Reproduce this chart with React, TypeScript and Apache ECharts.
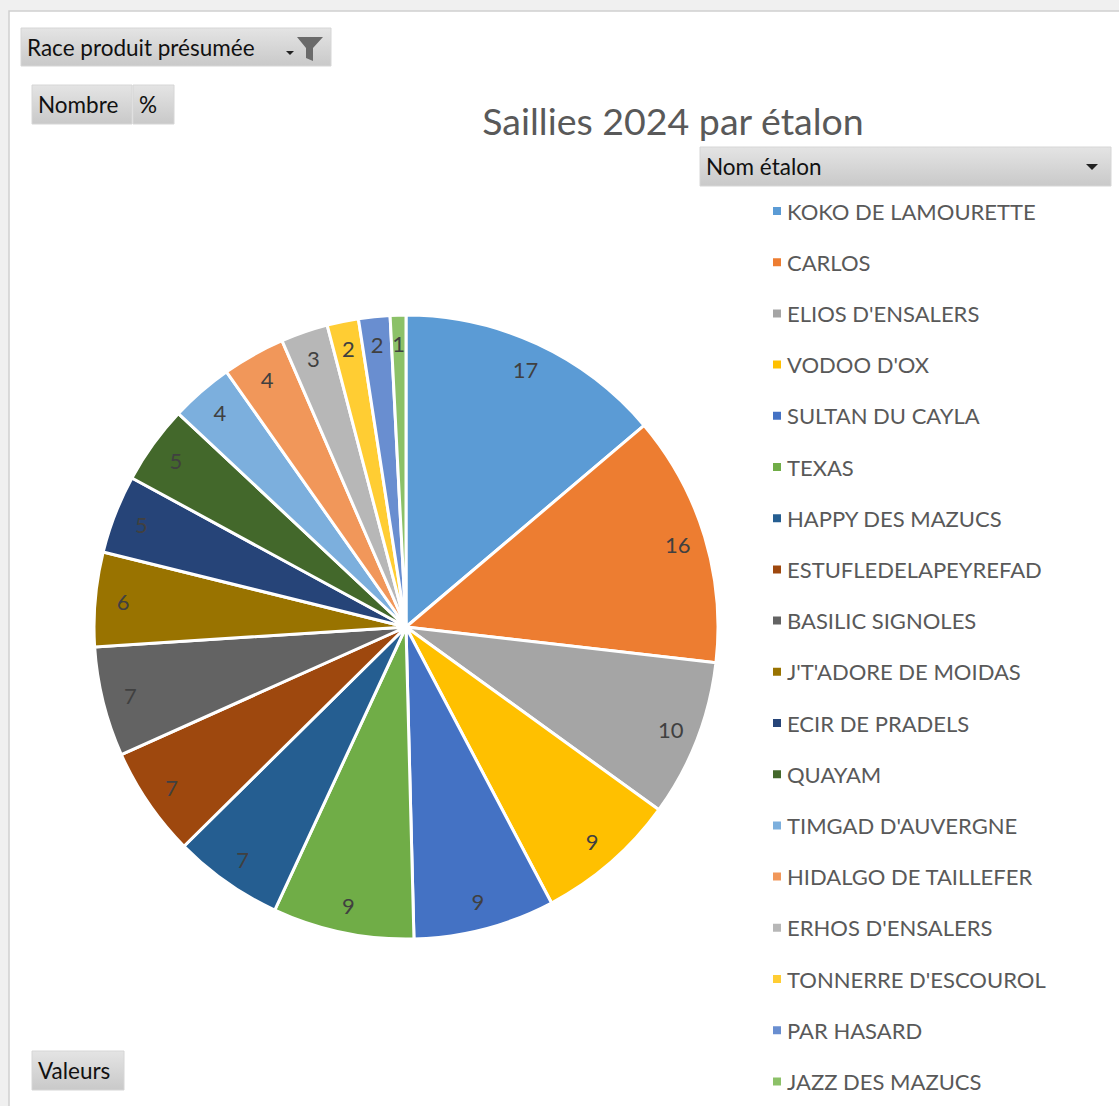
import React, { useEffect, useRef } from "react";
import * as echarts from "echarts";

const names = [
  "KOKO DE LAMOURETTE",
  "CARLOS",
  "ELIOS D'ENSALERS",
  "VODOO D'OX",
  "SULTAN DU CAYLA",
  "TEXAS",
  "HAPPY DES MAZUCS",
  "ESTUFLEDELAPEYREFAD",
  "BASILIC SIGNOLES",
  "J'T'ADORE DE MOIDAS",
  "ECIR DE PRADELS",
  "QUAYAM",
  "TIMGAD D'AUVERGNE",
  "HIDALGO DE TAILLEFER",
  "ERHOS D'ENSALERS",
  "TONNERRE D'ESCOUROL",
  "PAR HASARD",
  "JAZZ DES MAZUCS",
];
const values = [17, 16, 10, 9, 9, 9, 7, 7, 7, 6, 5, 5, 4, 4, 3, 2, 2, 1];
const colors = [
  "#5B9BD5", "#ED7D31", "#A5A5A5", "#FFC000", "#4472C4", "#70AD47",
  "#255E91", "#9E480E", "#636363", "#997300", "#264478", "#43682B",
  "#7CAFDD", "#F1975A", "#B7B7B7", "#FFCD33", "#698ED0", "#8CC168",
];
const titleText = "Saillies 2024 par étalon";

const FONT = "Lato, 'Noto Sans', sans-serif";

function button(x: number, y: number, w: number, h: number, label: string, fs = 22.5) {
  return {
    type: "group",
    children: [
      {
        type: "rect",
        shape: { x, y, width: w, height: h },
        style: {
          fill: new echarts.graphic.LinearGradient(0, 0, 0, 1, [
            { offset: 0, color: "#e4e4e4" },
            { offset: 1, color: "#c9c9c9" },
          ]),
          stroke: "#d6d6d6",
          lineWidth: 1,
        },
      },
      {
        type: "text",
        x: x + 6,
        y: y + h / 2,
        style: {
          text: label,
          font: `${fs}px ${FONT}`,
          fill: "#111",
          verticalAlign: "middle",
        },
      },
    ],
  };
}

export default function App() {
  const ref = useRef<HTMLDivElement>(null);
  useEffect(() => {
    if (!ref.current) return;
    const chart = echarts.init(ref.current, undefined, { renderer: "svg" });
    const data = names.map((n, i) => ({ name: n, value: values[i] }));
    chart.setOption({
      animation: false,
      backgroundColor: "#f0f0f0",
      color: colors,
      graphic: [
        {
          type: "rect",
          shape: { x: 9, y: 11, width: 1200, height: 1200 },
          style: { fill: "#ffffff", stroke: "#cfcfcf", lineWidth: 1.5 },
          z: -10,
        },
        button(21, 28, 310, 38, "Race produit présumée"),
        {
          type: "polygon",
          shape: { points: [[286, 51], [294, 51], [290, 55]] },
          style: { fill: "#222" },
        },
        {
          type: "polygon",
          shape: { points: [[297, 37], [323, 37], [313, 48], [313, 61], [306, 58], [306, 48]] },
          style: { fill: "#6a6a6a" },
        },
        button(32, 85, 100, 39, "Nombre"),
        button(133, 85, 41, 39, "%"),
        button(32, 1051, 92, 39, "Valeurs"),
        button(700, 147, 411, 39, "Nom étalon"),
        {
          type: "polygon",
          shape: { points: [[1086, 164], [1098, 164], [1092, 170]] },
          style: { fill: "#222" },
        },
      ],
      title: {
        text: titleText,
        left: 668,
        top: 96,
        textAlign: "center",
        textStyle: { fontFamily: FONT, fontSize: 37.5, fontWeight: "normal", color: "#595959" },
      },
      legend: {
        orient: "vertical",
        left: 766,
        top: 194,
        icon: "rect",
        itemWidth: 10,
        itemHeight: 10,
        itemGap: 27.2,
        data: names,
        textStyle: { fontFamily: FONT, fontSize: 22, color: "#595959", lineHeight: 24 },
        selectedMode: false,
      },
      series: [
        {
          type: "pie",
          center: [406, 627],
          radius: [0, 312],
          startAngle: 90,
          clockwise: true,
          data,
          label: { show: false },
          labelLine: { show: false },
          itemStyle: { borderColor: "#ffffff", borderWidth: 3 },
          silent: true,
        },
        {
          type: "pie",
          center: [406, 627],
          radius: [250, 312],
          startAngle: 90,
          clockwise: true,
          data,
          avoidLabelOverlap: false,
          legendHoverLink: false,
          silent: true,
          itemStyle: { color: "rgba(0,0,0,0)", borderWidth: 0 },
          label: {
            show: true,
            position: "inside",
            formatter: "{c}",
            fontFamily: FONT,
            fontSize: 22,
            color: "#404040",
          },
          labelLine: { show: false },
        },
      ],
    });
    return () => chart.dispose();
  }, []);
  return (
    <div
      ref={ref}
      style={{ position: "absolute", left: 0, top: 0, width: 1119, height: 1106 }}
    />
  );
}
